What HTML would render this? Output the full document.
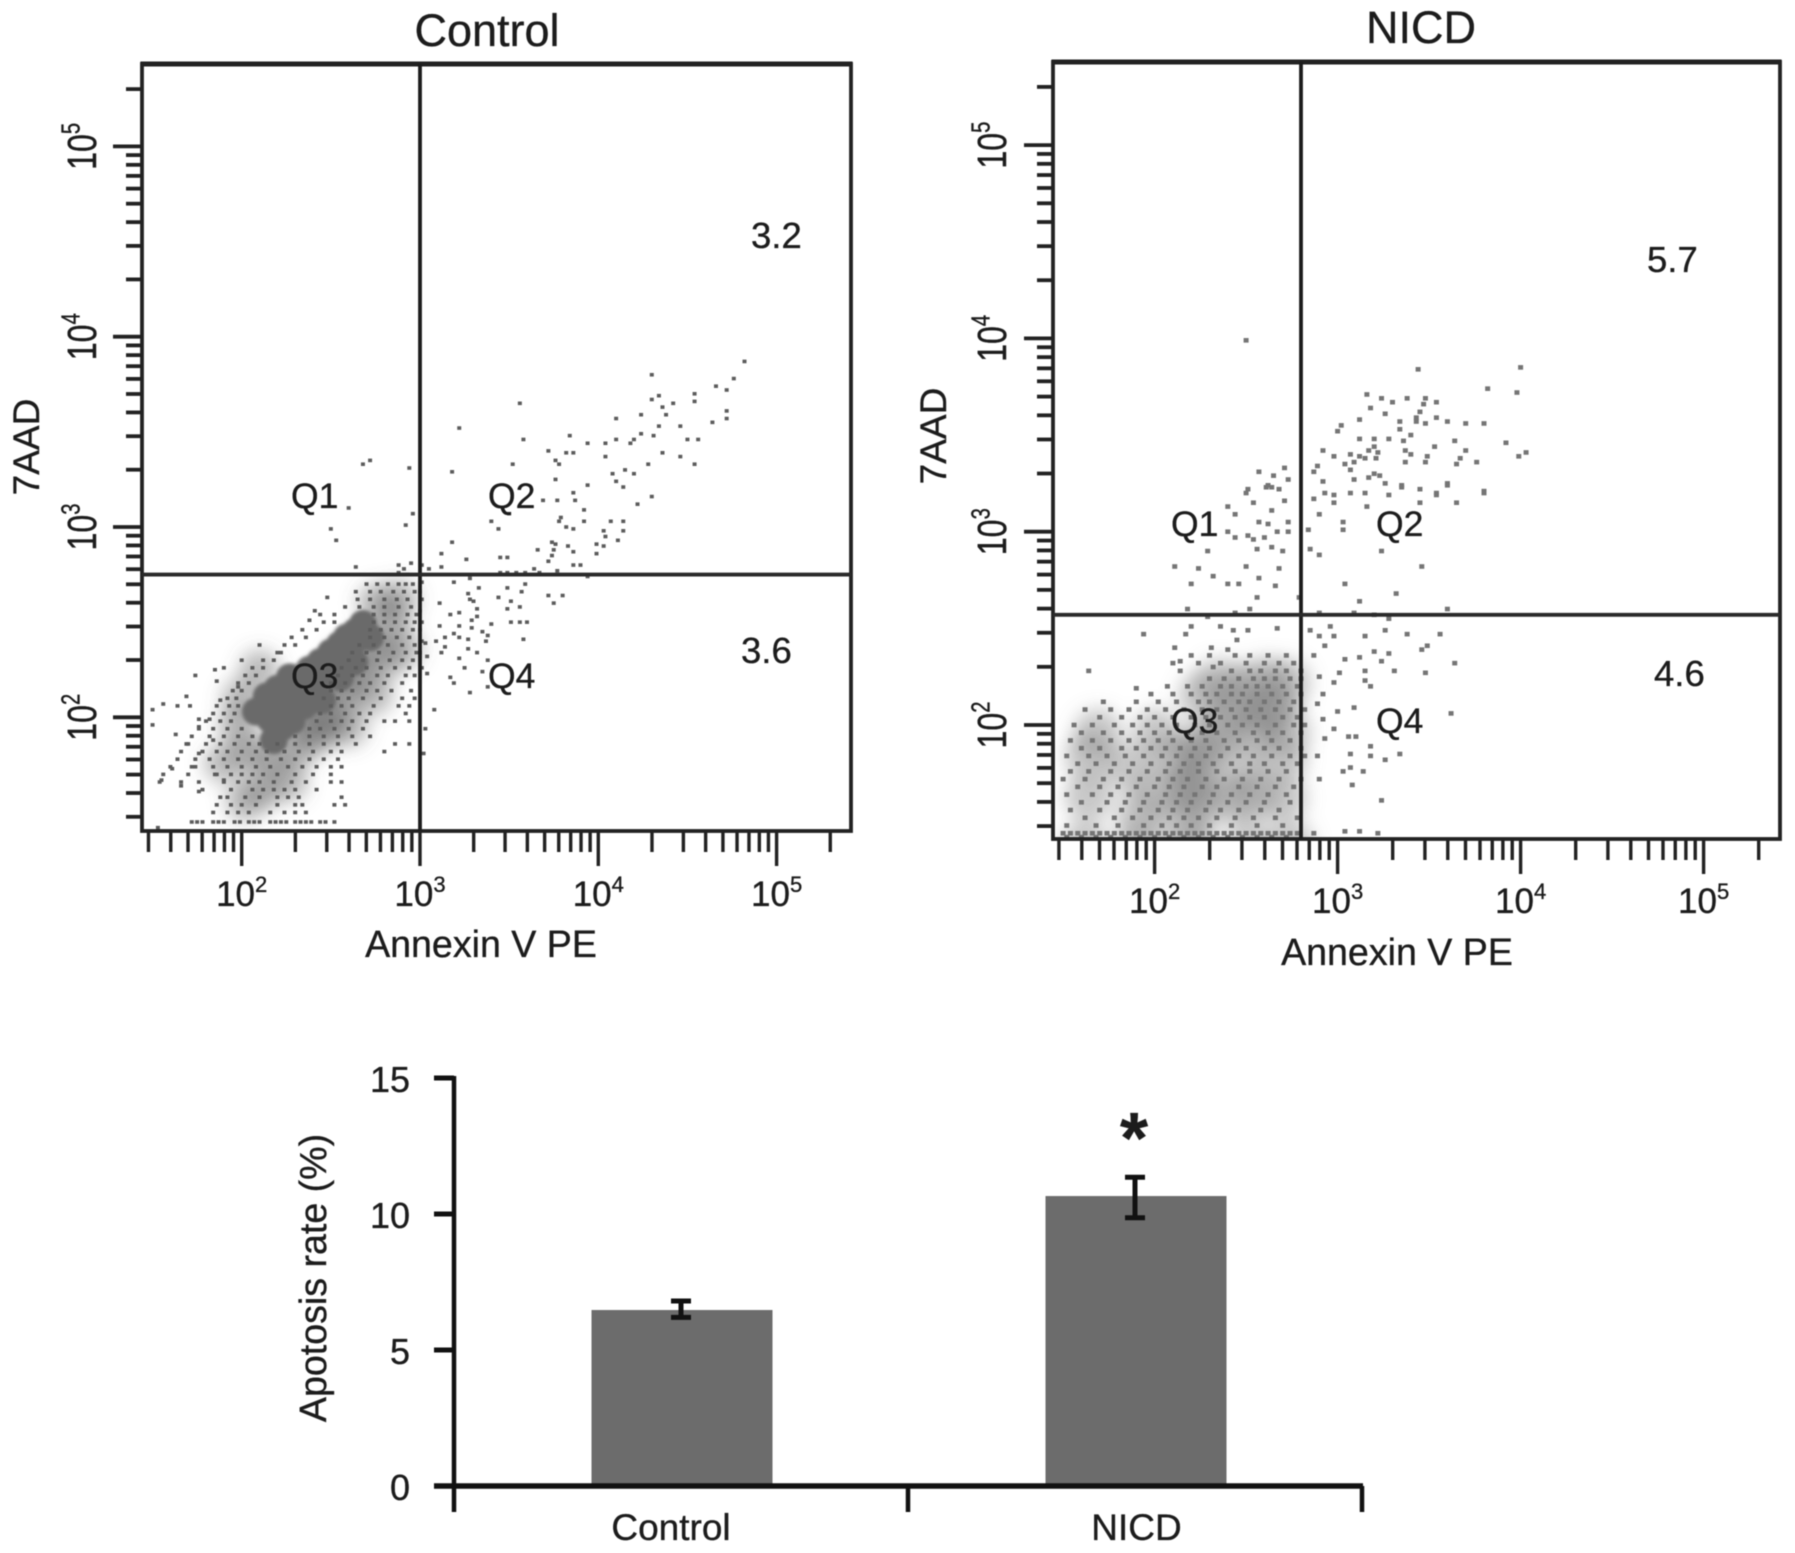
<!DOCTYPE html>
<html lang="en">
<head>
<meta charset="utf-8">
<title>Flow cytometry apoptosis: Control vs NICD</title>
<style>
html,body{margin:0;padding:0;background:#fff}
svg{display:block;filter:blur(.6px)}
text{font-family:"Liberation Sans",sans-serif;fill:#1c1c1c;stroke:#1c1c1c;stroke-width:.35}
</style>
</head>
<body>
<svg id="figure" xmlns="http://www.w3.org/2000/svg" width="1795" height="1553" viewBox="0 0 1795 1553">
  <defs>
    <filter id="soft-density" filterUnits="userSpaceOnUse" x="0" y="0" width="1795" height="1000"><feGaussianBlur stdDeviation="9"/></filter>
    <filter id="soft-core" filterUnits="userSpaceOnUse" x="0" y="0" width="1795" height="1000"><feGaussianBlur stdDeviation="1.6"/></filter>
    <clipPath id="control-clip"><rect x="144" y="66" width="705" height="764"/></clipPath>
    <clipPath id="nicd-clip"><rect x="1055" y="64" width="723" height="774"/></clipPath>
  </defs>
  <rect x="0" y="0" width="1795" height="1553" fill="#fff"/>
  <g id="control-plot"></g>
  <g id="nicd-plot"></g>
  <g id="bar-plot"></g>

  <text x="487" y="46" font-size="45" text-anchor="middle">Control</text>
  <text x="1421" y="43" font-size="45" text-anchor="middle">NICD</text>

  <text x="481" y="957" font-size="37.6" text-anchor="middle">Annexin V PE</text>
  <text x="1397" y="965" font-size="37.6" text-anchor="middle">Annexin V PE</text>
  <text transform="translate(39,447) rotate(-90)" font-size="37" text-anchor="middle">7AAD</text>
  <text transform="translate(946,436) rotate(-90)" font-size="37" text-anchor="middle">7AAD</text>

  <g font-size="35.5">
    <text x="291" y="508">Q1</text>
    <text x="488" y="508">Q2</text>
    <text x="291" y="688">Q3</text>
    <text x="488" y="688">Q4</text>
  </g>
  <g font-size="35.5">
    <text x="1171" y="536">Q1</text>
    <text x="1376" y="536">Q2</text>
    <text x="1171" y="733">Q3</text>
    <text x="1376" y="733">Q4</text>
  </g>
  <g font-size="36.5">
    <text x="751" y="248">3.2</text>
    <text x="741" y="663">3.6</text>
    <text x="1647" y="272">5.7</text>
    <text x="1654" y="686">4.6</text>
  </g>

  <text transform="translate(326,1278) rotate(-90)" font-size="37.6" text-anchor="middle">Apotosis rate (%)</text>
  <text x="1134" y="1163" font-size="72" font-weight="bold" text-anchor="middle" fill="#111">*</text>
</svg>

<script>
/* ---------- Flow data: log10 fluorescence ---------- */
const decadeLabels = [2, 3, 4, 5];
const minorMultiples = [2, 3, 4, 5, 6, 7, 8, 9];
const axisMinLog = 1.477;
const axisMaxLog = 5.301;

const controlGate = [3.0, 2.75];
const nicdGate = [2.80, 2.57];

const controlEvents = [
[4.82,3.87],[4.30,3.80],[4.76,3.78],[4.66,3.74],[4.72,3.72],[4.54,3.70],[4.54,3.66],[4.30,3.67],[4.34,3.69],[4.36,3.63],
[4.42,3.65],[4.38,3.59],[3.56,3.65],[4.24,3.59],[4.10,3.57],[4.64,3.55],[4.72,3.61],[4.72,3.57],[4.34,3.53],[4.46,3.53],
[3.22,3.52],[4.24,3.49],[4.31,3.48],[3.84,3.48],[3.58,3.46],[4.50,3.46],[4.56,3.46],[4.10,3.46],[4.04,3.44],[3.94,3.44],
[4.20,3.46],[4.18,3.44],[3.72,3.40],[3.82,3.39],[3.86,3.39],[4.04,3.37],[4.36,3.39],[4.46,3.37],[3.76,3.35],[3.78,3.33],
[3.52,3.33],[4.28,3.33],[4.54,3.33],[2.68,3.33],[2.72,3.35],[2.94,3.31],[3.18,3.29],[4.15,3.30],[4.08,3.28],[4.20,3.28],
[3.76,3.25],[4.10,3.24],[3.94,3.22],[4.14,3.21],[3.86,3.18],[4.30,3.16],[4.22,3.12],[3.69,3.14],[3.77,3.14],[3.87,3.14],
[3.92,3.09],[2.60,3.10],[2.96,3.07],[3.50,3.07],[3.79,3.05],[3.78,3.03],[3.92,3.03],[4.07,3.03],[4.14,3.03],[3.40,3.03],
[2.92,3.01],[3.82,3.00],[3.86,2.99],[3.44,2.99],[2.50,2.99],[4.14,2.98],[4.03,2.98],[4.04,2.95],[4.11,2.93],[2.53,2.93],
[3.18,2.92],[3.74,2.92],[3.76,2.91],[3.99,2.91],[4.03,2.90],[3.83,2.90],[3.66,2.88],[3.75,2.88],[3.86,2.87],[3.12,2.86],
[3.99,2.86],[3.74,2.85],[3.45,2.84],[3.49,2.84],[3.26,2.83],[3.72,2.82],[3.86,2.80],[3.90,2.80],[2.64,2.79],[2.88,2.80],
[2.95,2.81],[2.91,2.78],[3.01,2.80],[3.12,2.79],[3.05,2.78],[3.64,2.78],[3.77,2.77],[3.45,2.76],[3.49,2.76],[3.54,2.76],
[3.59,2.76],[3.67,2.76],[3.94,2.74],[3.28,2.73],[2.88,2.76],[2.93,2.75],[3.19,2.71],[3.59,2.70],[3.33,2.68],[3.49,2.68],
[3.57,2.66],[3.27,2.65],[3.44,2.63],[3.72,2.64],[3.80,2.64],[3.28,2.62],[3.30,2.61],[3.51,2.61],[3.56,2.58],[3.75,2.60],
[3.49,2.57],[3.32,2.57],[3.11,2.60],[3.22,2.55],[3.17,2.54],[3.32,2.53],[3.29,2.51],[3.51,2.50],[3.56,2.50],[3.60,2.50],
[3.40,2.49],[3.11,2.48],[3.22,2.48],[3.29,2.47],[3.35,2.45],[3.19,2.44],[3.38,2.43],[3.14,2.42],[3.22,2.42],[3.27,2.41],
[3.58,2.41],[3.37,2.40],[3.09,2.40],[3.03,2.39],[3.14,2.37],[3.27,2.36],[3.32,2.34],[3.22,2.31],[3.38,2.30],[3.04,2.32],
[3.12,2.34],[3.04,2.23],[3.25,2.26],[3.17,2.21],[3.35,2.24],[3.19,2.18],[3.38,2.16],[3.28,2.13],[3.08,2.04],[3.03,1.94],
[3.02,1.81],[3.01,2.62],[3.00,2.56],[3.01,2.50],[3.00,2.46],[3.01,2.40],[3.00,2.34],[3.01,2.26],[3.00,2.66],[3.01,2.71],
[1.50,2.04],[1.56,2.07],[1.64,2.06],[1.69,2.11],[1.71,2.06],[1.50,1.96],[1.76,1.99],[1.74,2.22],[1.85,2.25],[1.90,2.26],
[1.86,2.19],[2.00,2.30],[2.10,2.38],[2.22,2.34],[1.98,2.16],[1.88,2.09],[1.82,1.99],[1.63,1.91],[1.69,1.86],[1.76,1.95],
[1.84,1.88],[1.76,1.81],[1.64,1.78],[1.61,1.73],[1.74,1.74],[1.55,1.67],[1.66,1.64],[1.76,1.61],[1.85,1.70],[1.90,1.67],
[2.48,2.63],[2.41,2.56],[2.38,2.51],[1.53,1.42]
];

const controlClusterRows = [
[2.70,[2.70,2.76,2.82,2.88,2.92,2.96]],
[2.66,[2.64,2.72,2.78,2.85,2.91,2.97]],
[2.62,[2.65,2.72,2.80,2.87,2.93]],
[2.58,[2.58,2.66,2.74,2.80,2.88,2.95]],
[2.54,[2.44,2.52,2.74,2.80,2.86,2.93,2.98]],
[2.50,[2.46,2.52,2.74,2.80,2.86,2.92,2.97]],
[2.46,[2.34,2.42,2.72,2.78,2.84,2.90,2.96]],
[2.42,[2.36,2.28,2.72,2.80,2.87,2.94]],
[2.38,[2.24,2.30,2.66,2.74,2.82,2.90,2.97]],
[2.34,[2.20,2.62,2.70,2.77,2.85,2.92,2.98]],
[2.30,[2.12,2.18,2.60,2.68,2.76,2.83,2.90,2.96]],
[2.26,[2.06,2.12,2.56,2.64,2.70,2.78,2.86,2.94]],
[2.22,[2.02,2.08,2.54,2.62,2.68,2.76,2.82,2.92,2.97]],
[2.18,[1.98,2.04,2.50,2.58,2.66,2.72,2.80,2.90]],
[2.14,[1.95,2.00,2.50,2.56,2.62,2.70,2.76,2.84,2.95]],
[2.10,[1.92,1.97,2.46,2.54,2.60,2.68,2.78,2.90,2.97]],
[2.06,[1.86,1.93,1.98,2.50,2.56,2.62,2.74,2.88,2.94]],
[2.02,[1.84,1.90,1.96,2.44,2.50,2.58,2.66,2.72,2.92]],
[1.98,[1.80,1.88,1.94,2.42,2.50,2.56,2.62,2.70,2.80,2.86,2.94]],
[1.94,[1.76,1.84,1.92,2.00,2.38,2.44,2.52,2.60,2.68]],
[1.90,[1.72,1.82,1.90,1.98,2.06,2.30,2.38,2.46,2.54,2.62,2.72]],
[1.86,[1.70,1.80,1.88,1.96,2.04,2.10,2.20,2.30,2.38,2.46,2.54,2.64,2.86,2.94]],
[1.82,[1.66,1.78,1.86,1.92,2.00,2.08,2.14,2.24,2.32,2.40,2.50,2.56,2.80]],
[1.78,[1.74,1.82,1.90,1.98,2.06,2.14,2.22,2.30,2.38,2.46,2.54]],
[1.74,[1.60,1.72,1.84,1.92,2.00,2.08,2.16,2.26,2.34,2.42,2.50,2.56]],
[1.70,[1.56,1.70,1.86,1.94,2.00,2.06,2.12,2.20,2.30,2.40,2.50]],
[1.66,[1.54,1.66,1.76,1.90,1.98,2.04,2.10,2.18,2.28,2.36,2.50,2.56]],
[1.62,[1.78,1.94,2.06,2.12,2.18,2.24,2.30,2.42]],
[1.58,[1.88,1.92,2.02,2.10,2.20,2.26,2.32,2.56]],
[1.54,[1.86,1.94,2.00,2.08,2.20,2.30,2.34,2.52,2.58]],
[1.50,[1.84,1.92,1.98,2.04,2.16,2.24,2.30,2.36]],
[1.45,[1.72,1.75,1.78,1.84,1.87,1.90,1.96,1.99,2.04,2.07,2.10,2.16,2.19,2.22,2.25,2.30,2.33,2.36,2.39,2.44,2.47,2.52]]
];

const controlCore = [
[2.68,2.49],[2.64,2.45],[2.59,2.42],[2.61,2.34],[2.55,2.38],[2.50,2.34],[2.50,2.23],[2.44,2.29],[2.38,2.25],[2.27,2.21],
[2.32,2.20],[2.27,2.09],[2.38,2.13],[2.33,2.14],[2.14,2.11],[2.20,2.15],[2.16,1.99],[2.20,2.04],[2.23,1.95],[2.18,1.88],[2.44,2.19],
[2.35,2.06],[2.45,2.09],[2.55,2.21],[2.63,2.29],[2.08,2.03],[2.28,1.98],[2.72,2.42]
];
const controlHalo = [
[2.76,2.60],[2.84,2.50],[2.72,2.38],[2.80,2.30],[2.66,2.22],[2.58,2.12],[2.50,2.00],[2.40,1.90],[2.30,1.82],[2.16,1.78],
[2.04,1.82],[1.98,1.96],[2.00,2.10],[2.10,2.25],[2.26,1.66],[2.12,1.62],[1.90,1.76],[2.74,2.12],[2.88,2.62],[2.90,2.36],[2.60,1.95],[2.02,1.56],
[2.40,2.08],[2.50,2.18],[2.30,1.98],[2.60,2.30],[2.46,1.94]
];

const nicdEvents = [
[2.50,3.99],[3.44,3.84],[4.00,3.85],[3.82,3.74],[3.98,3.72],[3.16,3.71],[3.24,3.69],[3.30,3.67],[3.38,3.69],[3.48,3.69],
[3.54,3.67],[3.47,3.66],[3.18,3.64],[3.26,3.61],[3.45,3.62],[3.43,3.59],[3.54,3.59],[3.12,3.58],[3.60,3.57],[3.34,3.57],
[3.43,3.57],[3.48,3.56],[3.70,3.56],[3.80,3.56],[3.02,3.55],[3.00,3.52],[3.34,3.53],[3.40,3.50],[3.28,3.48],[3.20,3.48],
[3.12,3.48],[3.36,3.47],[3.64,3.47],[3.92,3.46],[3.53,3.44],[3.20,3.44],[3.17,3.42],[3.22,3.41],[3.37,3.42],[3.70,3.42],
[2.92,3.42],[2.98,3.39],[3.07,3.40],[3.12,3.39],[3.15,3.38],[3.21,3.38],[3.40,3.40],[3.49,3.39],[3.67,3.38],[3.99,3.39],
[4.03,3.41],[3.76,3.36],[3.37,3.36],[3.48,3.36],[3.09,3.36],[3.04,3.35],[2.89,3.34],[2.87,3.31],[3.65,3.35],[2.57,3.31],
[2.71,3.33],[2.65,3.29],[3.20,3.30],[3.07,3.32],[3.17,3.28],[3.23,3.29],[3.09,3.27],[2.61,3.23],[2.64,3.23],[2.73,3.27],
[3.60,3.25],[3.26,3.25],[3.35,3.23],[2.51,3.22],[2.68,3.22],[2.92,3.26],[3.45,3.22],[3.80,3.21],[3.54,3.20],[3.07,3.20],
[2.98,3.19],[3.15,3.20],[3.80,3.20],[3.60,3.24],[2.62,3.24],[2.50,3.20],[3.35,3.24],[2.93,3.20],[2.87,3.17],[2.98,3.15],
[3.16,3.13],[3.28,3.19],[3.54,3.19],[3.65,3.15],[3.45,3.15],[2.54,3.15],[2.64,3.11],[2.71,3.16],[2.40,3.13],[2.44,3.09],
[2.90,3.09],[3.03,3.05],[3.03,3.01],[2.73,3.05],[2.62,3.04],[2.57,3.05],[2.51,2.98],[2.40,3.00],[2.44,2.97],[2.54,2.96],
[2.60,2.97],[2.67,3.00],[2.73,3.00],[2.84,3.01],[2.56,2.91],[2.64,2.92],[2.70,2.90],[2.29,2.90],[2.85,2.91],[2.90,2.88],
[3.24,2.90],[2.11,2.82],[2.24,2.81],[2.50,2.82],[2.68,2.81],[3.46,2.82],[2.32,2.77],[2.57,2.76],[2.20,2.73],[2.40,2.73],
[2.46,2.73],[2.66,2.72],[3.04,2.73],[3.32,2.68],[2.56,2.66],[2.79,2.66],[3.12,2.64],[3.60,2.60],[2.18,2.60],[2.52,2.60],
[2.29,2.56],[2.44,2.58],[2.90,2.58],[3.09,2.58],[3.20,2.57],[3.28,2.55],[2.20,2.51],[2.36,2.51],[2.43,2.49],[2.51,2.49],
[2.67,2.50],[1.94,2.47],[2.17,2.47],[2.96,2.51],[2.85,2.49],[3.26,2.49],[3.15,2.46],[3.38,2.47],[3.56,2.47],[2.90,2.46],
[2.98,2.46],[2.45,2.44],[2.31,2.40],[2.40,2.39],[2.11,2.40],[3.49,2.41],[3.20,2.38],[3.28,2.37],[2.93,2.41],[2.14,2.33],
[3.12,2.35],[3.46,2.39],[3.04,2.34],[2.87,2.36],[3.64,2.32],[3.24,2.33],[3.31,2.28],[3.15,2.28],[2.32,2.30],[1.64,2.28],
[3.01,2.27],[3.48,2.27],[2.90,2.25],[3.15,2.23],[2.98,2.22],[3.18,2.20],[1.90,2.19],[2.07,2.20],[2.92,2.16],[3.62,2.06],
[2.89,2.11],[3.00,2.07],[3.09,2.09],[2.92,2.03],[2.98,1.98],[3.06,1.94],[3.10,1.94],[2.93,1.93],[3.18,1.89],[3.18,1.84],
[3.34,1.85],[3.26,1.82],[3.07,1.85],[2.89,1.84],[3.07,1.78],[3.03,1.76],[3.14,1.76],[2.90,1.72],[3.08,1.69],[3.24,1.61],
[2.87,1.44],[3.04,1.45],[3.12,1.45],[3.22,1.44]
];

const nicdClusterRows = [
[2.36,[2.20,2.30,2.44,2.52,2.62,2.72]],
[2.32,[2.10,2.24,2.36,2.50,2.60,2.68,2.76]],
[2.28,[2.14,2.42,2.52,2.58,2.66,2.72,2.80]],
[2.24,[2.30,2.38,2.46,2.54,2.60,2.66,2.74,2.80]],
[2.20,[2.18,2.26,2.36,2.42,2.50,2.56,2.62,2.70,2.78]],
[2.16,[1.98,2.10,2.20,2.28,2.34,2.42,2.48,2.56,2.64,2.72,2.80]],
[2.12,[1.72,1.90,2.02,2.12,2.24,2.30,2.38,2.46,2.52,2.60,2.68,2.76]],
[2.08,[1.62,1.76,1.86,1.96,2.06,2.16,2.26,2.34,2.42,2.50,2.58,2.66,2.74,2.82]],
[2.04,[1.70,1.82,1.92,2.00,2.10,2.20,2.28,2.36,2.44,2.52,2.60,2.70,2.78]],
[2.00,[1.56,1.66,1.78,1.88,1.96,2.04,2.12,2.22,2.30,2.40,2.48,2.56,2.66,2.76,2.82]],
[1.96,[1.60,1.72,1.82,1.92,2.00,2.08,2.18,2.26,2.34,2.44,2.54,2.62,2.70,2.80]],
[1.92,[1.54,1.66,1.76,1.86,1.94,2.02,2.10,2.20,2.28,2.38,2.46,2.56,2.64,2.74]],
[1.88,[1.60,1.70,1.82,1.90,1.98,2.06,2.14,2.22,2.30,2.40,2.50,2.60,2.68,2.80]],
[1.84,[1.52,1.64,1.74,1.84,1.94,2.04,2.12,2.20,2.28,2.36,2.46,2.54,2.64,2.74,2.82]],
[1.80,[1.58,1.68,1.78,1.88,1.98,2.08,2.16,2.24,2.32,2.42,2.52,2.60,2.70,2.78]],
[1.76,[1.54,1.64,1.76,1.86,1.96,2.06,2.14,2.24,2.34,2.44,2.52,2.62,2.72]],
[1.72,[1.50,1.62,1.72,1.82,1.92,2.02,2.10,2.18,2.28,2.38,2.48,2.58,2.68,2.80]],
[1.68,[1.58,1.70,1.80,1.90,2.00,2.08,2.16,2.26,2.34,2.46,2.56,2.66,2.76]],
[1.64,[1.52,1.66,1.76,1.86,1.96,2.06,2.14,2.22,2.32,2.42,2.52,2.62,2.72]],
[1.60,[1.60,1.74,1.84,1.94,2.04,2.12,2.20,2.30,2.40,2.50,2.60,2.74]],
[1.56,[1.54,1.70,1.82,1.92,2.02,2.10,2.18,2.28,2.36,2.46,2.58,2.68]],
[1.52,[1.62,1.78,1.88,1.98,2.08,2.16,2.24,2.34,2.44,2.54,2.66,2.78]],
[1.48,[1.52,1.68,1.80,1.94,2.04,2.12,2.20,2.30,2.42,2.56,2.70]],
[1.44,[1.50,1.54,1.58,1.62,1.66,1.70,1.74,1.78,1.82,1.86,1.90,1.94,1.98,2.02,2.06,2.10,2.14,2.18,2.22,2.26,2.30,2.34,2.38,2.42,2.46,2.50,2.54,2.58,2.62,2.66,2.70,2.74,2.78]],
[1.42,[1.52,1.60,1.68,1.76,1.84,1.92,2.00,2.08,2.16,2.24,2.32,2.40,2.48,2.56,2.64,2.72]]
];

const nicdHalo = [
[2.23,1.84],[2.23,1.72],[2.26,1.61],[2.11,1.84],[2.45,2.08],[2.61,2.23],[2.48,2.20],[2.26,2.15],[2.36,1.97],[2.01,1.96],
[2.54,1.97],[1.86,1.78],[2.01,1.65],[2.48,1.78],[2.42,1.61],[1.69,1.96],[2.67,2.10],[2.17,1.49],[1.92,1.53],[2.54,1.63],
[2.70,1.82],[1.64,1.84],[1.64,1.63],[2.28,1.90],[2.16,1.66],[2.72,2.22],[2.72,1.96],[2.70,1.62],[2.60,2.05],[2.35,2.22],
[1.62,1.38],[1.92,1.38],[2.22,1.38],[2.52,1.38],[2.74,1.38]
];

/* ---------- Bar chart data ---------- */
const barCategories = ['Control', 'NICD'];
const barValues = [6.47, 10.66];
const barErrorTop = [6.80, 11.35];
const barErrorBottom = [6.20, 9.86];
const barTicks = [0, 5, 10, 15];

/* ---------- Helpers ---------- */
const NS = 'http://www.w3.org/2000/svg';
function make(parent, tag, attrs) {
  const el = document.createElementNS(NS, tag);
  for (const k in attrs) el.setAttribute(k, attrs[k]);
  parent.appendChild(el);
  return el;
}

function drawFlowPlot(root, box, prefix, gate, events, rows, core, halo, dot) {
  const sx = v => box.x100 + (v - 2) * box.xDecade;
  const sy = v => box.y100 - (v - 2) * box.yDecade;

  const clipped = make(root, 'g', {'clip-path': 'url(#' + prefix + '-clip)'});
  
  

  const haloLayer = make(clipped, 'g', {filter: 'url(#soft-density)'});
  
  
  for (const p of halo) {
    const el = make(haloLayer, 'circle', {cx: sx(p[0]), cy: sy(p[1]), r: dot.haloR, fill: dot.color, opacity: dot.haloOpacity});
    
    
  }
  const coreLayer = make(clipped, 'g', {filter: 'url(#soft-core)'});
  
  
  for (const p of core) {
    const el = make(coreLayer, 'circle', {cx: sx(p[0]), cy: sy(p[1]), r: dot.coreR, fill: '#6a6a6a'});
    
    
  }
  const plotDot = (xv, yv) => {
    const el = make(clipped, 'rect', {x: sx(xv) - dot.w / 2, y: sy(yv) - dot.h / 2, width: dot.w, height: dot.h, fill: dot.color});
    
    
  };
  for (const p of events) plotDot(p[0], p[1]);
  for (const row of rows) for (const xv of row[1]) plotDot(xv, row[0]);

  /* frame */
  const frame = make(root, 'rect', {x: box.left, y: box.top, width: box.right - box.left, height: box.bottom - box.top, fill: 'none', stroke: '#222', 'stroke-width': 3.8});
  
  
  const topEdge = make(root, 'line', {x1: box.left - 1.5, x2: box.right + 1.5, y1: box.top, y2: box.top, stroke: '#222', 'stroke-width': 5});
  
  

  /* gates */
  const vGate = make(root, 'line', {x1: sx(gate[0]), x2: sx(gate[0]), y1: box.top, y2: box.bottom, stroke: '#1c1c1c', 'stroke-width': 3.8});
  
  
  const hGate = make(root, 'line', {x1: box.left, x2: box.right, y1: sy(gate[1]), y2: sy(gate[1]), stroke: '#2a2a2a', 'stroke-width': 3.8});
  
  

  /* log ticks */
  const logs = [];
  for (let d = 1; d <= 5; d++) {
    logs.push({v: d, major: d >= 2});
    for (const m of minorMultiples) logs.push({v: d + Math.log10(m), major: false});
  }
  for (const t of logs) {
    if (t.v < axisMinLog - 0.005 || t.v > axisMaxLog + 0.005) continue;
    const xt = make(root, 'line', {x1: sx(t.v), x2: sx(t.v), y1: box.bottom, y2: box.bottom + (t.major ? box.xMajor : box.xMinor), stroke: '#222', 'stroke-width': 3.4});
    
    
    const yt = make(root, 'line', {x1: box.left, x2: box.left - (t.major ? 29 : 16), y1: sy(t.v), y2: sy(t.v), stroke: '#222', 'stroke-width': 3.8});
    
    
  }

  /* decade labels */
  for (const d of decadeLabels) {
    const xl = make(root, 'text', {x: sx(d), y: box.xLabelY, 'font-size': 35, 'text-anchor': 'middle'});
    
    
    xl.appendChild(document.createTextNode('10'));
    const xs = make(xl, 'tspan', {dy: -14, 'font-size': 22});
    xs.textContent = String(d);

    const yl = make(root, 'text', {transform: `translate(${box.yLabelX},${sy(d)}) rotate(-90) scale(.92,1.17)`, 'font-size': 35, 'text-anchor': 'middle'});
    
    
    yl.appendChild(document.createTextNode('10'));
    const ys = make(yl, 'tspan', {dy: -14, 'font-size': 22});
    ys.textContent = String(d);
  }
}

/* ---------- Draw flow panels ---------- */
drawFlowPlot(document.getElementById('control-plot'),
  {left: 142, right: 851, top: 64, bottom: 831, x100: 241.7, xDecade: 178.3, y100: 717.3, yDecade: 190.3,
   xMajor: 35, xMinor: 21, xLabelY: 906, yLabelX: 96},
  'control', controlGate, controlEvents, controlClusterRows, controlCore, controlHalo,
  {w: 4, h: 3.6, color: '#5c5c5c', coreR: 14, haloR: 20, haloOpacity: 0.42});

drawFlowPlot(document.getElementById('nicd-plot'),
  {left: 1053, right: 1780, top: 62, bottom: 839, x100: 1154.6, xDecade: 183, y100: 725, yDecade: 193.3,
   xMajor: 35, xMinor: 21, xLabelY: 913, yLabelX: 1006},
  'nicd', nicdGate, nicdEvents, nicdClusterRows, [], nicdHalo,
  {w: 5, h: 4.6, color: '#757575', coreR: 0, haloR: 24, haloOpacity: 0.4});

/* ---------- Draw bar chart ---------- */
(function () {
  const root = document.getElementById('bar-plot');
  const axisX = 454, axisRight = 1362, baseY = 1486, unit = 27.2, groupW = 454, barW = 181;
  const sy = v => baseY - v * unit;
  const centers = [682, 1136];

  barCategories.forEach((name, i) => {
    const bar = make(root, 'rect', {x: centers[i] - barW / 2, y: sy(barValues[i]), width: barW, height: baseY - sy(barValues[i]), fill: '#6c6c6c'});
    
    

    const ex = i === 0 ? 681 : 1135;
    const stem = make(root, 'line', {x1: ex, x2: ex, y1: sy(barErrorTop[i]), y2: sy(barErrorBottom[i]), stroke: '#111', 'stroke-width': 5});
    
    
    for (const v of [barErrorTop[i], barErrorBottom[i]]) {
      const cap = make(root, 'line', {x1: ex - 10, x2: ex + 10, y1: sy(v), y2: sy(v), stroke: '#111', 'stroke-width': 5});
      
      
    }

    const lab = make(root, 'text', {x: i === 0 ? 671 : 1136.5, y: 1540, 'font-size': 37, 'text-anchor': 'middle'});
    
    
    lab.textContent = name;
  });

  const yAxis = make(root, 'line', {x1: axisX, x2: axisX, y1: sy(15) - 2, y2: 1512, stroke: '#111', 'stroke-width': 4.5});
  
  
  const xAxis = make(root, 'line', {x1: 434, x2: axisRight + 1, y1: baseY, y2: baseY, stroke: '#111', 'stroke-width': 5.5});
  
  

  for (let k = 1; k <= barCategories.length; k++) {
    const tx = axisX + k * groupW;
    const t = make(root, 'line', {x1: tx, x2: tx, y1: baseY, y2: 1512, stroke: '#111', 'stroke-width': 4.5});
    
    
  }

  for (const v of barTicks) {
    if (v !== 0) {
      const t = make(root, 'line', {x1: 434, x2: axisX, y1: sy(v), y2: sy(v), stroke: '#111', 'stroke-width': 5});
      
      
    }
    const lab = make(root, 'text', {x: 410, y: sy(v) + 14, 'font-size': 36, 'text-anchor': 'end'});
    
    
    lab.textContent = String(v);
  }
})();
</script>
</body>
</html>
